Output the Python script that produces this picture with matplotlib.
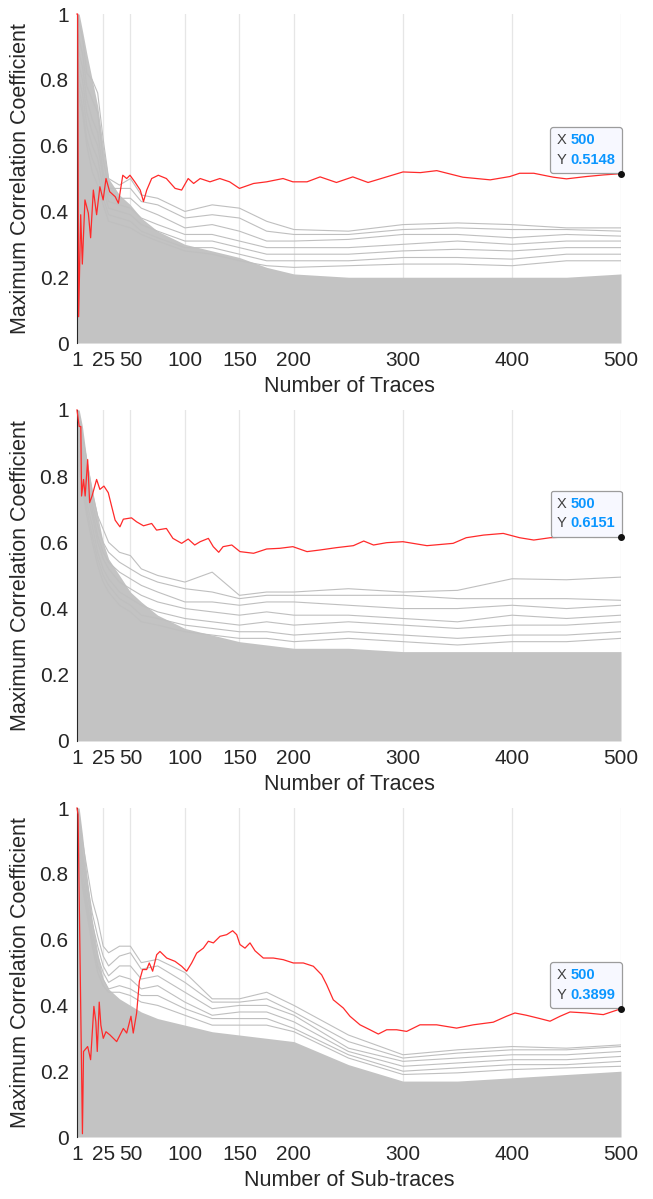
import matplotlib
matplotlib.use("Agg")
import matplotlib.pyplot as plt
from matplotlib.offsetbox import TextArea, HPacker, VPacker, AnnotationBbox

plt.rcParams['font.family'] = ['Liberation Sans', 'DejaVu Sans']

# x positions shared by the gray (wrong key) traces
gx = [1, 3, 6, 10, 15, 20, 25, 30, 40, 50, 60, 75, 100, 125, 150, 175, 200, 250, 300, 350, 400, 450, 500]

# --- panel 1: Number of Traces ---
red1_x = [1, 1.6, 2.5, 4.4, 5.9, 8.3, 11.4, 13.5, 16, 19, 22, 25, 27.6, 31, 36, 39, 43, 46.6, 49.6, 54,
          59, 62, 65, 69.5, 75.6, 83, 91, 97, 103, 108, 114, 123, 132, 141, 150, 163, 175, 190, 199, 212,
          224, 239, 254, 268, 285, 300, 316, 331, 355, 380, 398, 407, 420, 438, 450, 468, 484, 500]
red1_y = [1.0, 1.0, 0.08, 0.39, 0.24, 0.435, 0.395, 0.32, 0.465, 0.39, 0.475, 0.435, 0.50, 0.46, 0.445, 0.425, 0.51, 0.50, 0.51, 0.49,
          0.465, 0.43, 0.465, 0.50, 0.51, 0.50, 0.47, 0.465, 0.50, 0.485, 0.50, 0.49, 0.50, 0.49, 0.47, 0.485, 0.49, 0.50, 0.49, 0.49,
          0.505, 0.488, 0.505, 0.488, 0.505, 0.52, 0.518, 0.524, 0.504, 0.496, 0.506, 0.516, 0.516, 0.504, 0.499, 0.506, 0.511, 0.5148]
dense1 = [1.0, 1.0, 0.95, 0.88, 0.8, 0.72, 0.6, 0.5, 0.45, 0.42, 0.38, 0.34, 0.30, 0.28, 0.26, 0.23, 0.21, 0.20, 0.20, 0.20, 0.20, 0.20, 0.21]
upper1 = [
    [1.0, 0.97, 0.93, 0.82, 0.80, 0.76, 0.62, 0.50, 0.48, 0.50, 0.45, 0.44, 0.40, 0.42, 0.41, 0.37, 0.345, 0.34, 0.36, 0.365, 0.36, 0.35, 0.35],
    [0.96, 0.92, 0.88, 0.78, 0.74, 0.70, 0.56, 0.47, 0.47, 0.47, 0.43, 0.42, 0.38, 0.39, 0.38, 0.34, 0.33, 0.33, 0.345, 0.35, 0.345, 0.345, 0.34],
    [0.92, 0.88, 0.84, 0.74, 0.68, 0.64, 0.52, 0.45, 0.44, 0.44, 0.41, 0.39, 0.35, 0.36, 0.34, 0.31, 0.31, 0.315, 0.33, 0.33, 0.32, 0.33, 0.325],
    [0.88, 0.84, 0.80, 0.70, 0.64, 0.60, 0.50, 0.43, 0.42, 0.41, 0.38, 0.36, 0.33, 0.33, 0.31, 0.29, 0.29, 0.29, 0.30, 0.31, 0.30, 0.31, 0.31],
    [0.85, 0.80, 0.76, 0.66, 0.60, 0.56, 0.47, 0.41, 0.40, 0.39, 0.36, 0.34, 0.31, 0.31, 0.29, 0.27, 0.27, 0.27, 0.28, 0.285, 0.28, 0.29, 0.29],
    [0.82, 0.77, 0.72, 0.62, 0.56, 0.52, 0.44, 0.39, 0.38, 0.37, 0.34, 0.32, 0.29, 0.29, 0.27, 0.25, 0.25, 0.25, 0.26, 0.26, 0.255, 0.27, 0.27],
    [0.78, 0.74, 0.70, 0.60, 0.52, 0.48, 0.42, 0.37, 0.36, 0.35, 0.33, 0.31, 0.28, 0.27, 0.25, 0.235, 0.23, 0.235, 0.24, 0.24, 0.235, 0.25, 0.25],
]

# --- panel 2: Number of Traces ---
red2_x = [1, 3, 4.5, 5.2, 7, 8.5, 10.8, 12.6, 14.8, 19, 22, 25.7, 29.7, 32.7, 36, 40.4, 43.5, 51, 55.7, 62,
          69.5, 74, 83, 89, 97, 103, 109, 114, 121.5, 126, 131, 135, 143, 150.5, 163, 175, 187, 199, 212, 224,
          239, 254.5, 264, 273, 285, 300, 322, 346, 358, 374, 392, 407, 420, 435, 456, 475, 500]
red2_y = [1.0, 0.95, 0.95, 0.74, 0.79, 0.74, 0.85, 0.72, 0.74, 0.79, 0.76, 0.77, 0.75, 0.71, 0.667, 0.647, 0.67, 0.674, 0.662, 0.65,
          0.657, 0.637, 0.642, 0.612, 0.597, 0.61, 0.592, 0.602, 0.612, 0.587, 0.57, 0.587, 0.592, 0.572, 0.567, 0.58, 0.582, 0.587, 0.572, 0.577,
          0.584, 0.59, 0.604, 0.592, 0.599, 0.602, 0.59, 0.597, 0.614, 0.622, 0.627, 0.614, 0.607, 0.614, 0.617, 0.615, 0.6151]
dense2 = [1.0, 1.0, 0.95, 0.85, 0.76, 0.68, 0.60, 0.55, 0.50, 0.45, 0.42, 0.38, 0.34, 0.32, 0.30, 0.29, 0.28, 0.28, 0.27, 0.27, 0.27, 0.27, 0.27]
upper2 = [
    [1.0, 0.98, 0.92, 0.85, 0.75, 0.68, 0.64, 0.60, 0.57, 0.56, 0.52, 0.50, 0.48, 0.51, 0.44, 0.45, 0.45, 0.46, 0.45, 0.455, 0.49, 0.487, 0.495],
    [0.97, 0.94, 0.88, 0.80, 0.72, 0.65, 0.60, 0.57, 0.54, 0.52, 0.50, 0.48, 0.46, 0.45, 0.43, 0.44, 0.44, 0.44, 0.44, 0.43, 0.43, 0.43, 0.425],
    [0.95, 0.92, 0.86, 0.77, 0.70, 0.62, 0.57, 0.54, 0.51, 0.49, 0.47, 0.45, 0.42, 0.42, 0.41, 0.42, 0.42, 0.41, 0.40, 0.40, 0.41, 0.40, 0.41],
    [0.93, 0.90, 0.84, 0.75, 0.68, 0.60, 0.55, 0.52, 0.48, 0.46, 0.44, 0.42, 0.40, 0.39, 0.38, 0.39, 0.38, 0.38, 0.37, 0.36, 0.38, 0.37, 0.38],
    [0.90, 0.87, 0.81, 0.72, 0.65, 0.57, 0.52, 0.49, 0.45, 0.43, 0.41, 0.39, 0.37, 0.36, 0.35, 0.36, 0.35, 0.36, 0.35, 0.34, 0.35, 0.35, 0.36],
    [0.88, 0.85, 0.78, 0.70, 0.62, 0.55, 0.50, 0.47, 0.43, 0.41, 0.38, 0.37, 0.35, 0.34, 0.33, 0.33, 0.32, 0.33, 0.32, 0.31, 0.32, 0.32, 0.33],
    [0.86, 0.82, 0.76, 0.68, 0.60, 0.53, 0.48, 0.45, 0.41, 0.39, 0.36, 0.35, 0.33, 0.32, 0.31, 0.31, 0.30, 0.31, 0.30, 0.29, 0.30, 0.30, 0.31],
]

# --- panel 3: Number of Sub-traces ---
red3_x = [1, 2, 6, 7, 10.8, 13.5, 16.5, 18.3, 19.6, 21.4, 22.9, 25.1, 27.6, 31.3, 37.4, 43.5, 46.6, 50.5, 52.6, 55.7,
          58.2, 61.2, 64.9, 67.3, 70.4, 74.1, 77.1, 83.3, 90.9, 97, 101.6, 106.2, 110.8, 116.9, 121.5, 126.1, 132.2, 138.3, 143.8, 147.5,
          150.5, 155.1, 159.7, 164.3, 171.9, 181.1, 190.2, 199.4, 208.6, 217.8, 225.4, 230, 236.1, 245.3, 251.4, 260.6, 269.7, 277.4, 285.1, 294.2,
          303.4, 315.6, 330.9, 349.2, 364.5, 382.8, 395, 402.7, 413.3, 425.6, 434.9, 444.1, 453.2, 468.5, 483.8, 500]
red3_y = [1.0, 0.98, 0.01, 0.26, 0.275, 0.235, 0.397, 0.35, 0.26, 0.41, 0.34, 0.30, 0.32, 0.31, 0.29, 0.33, 0.316, 0.367, 0.316, 0.377,
          0.473, 0.509, 0.509, 0.529, 0.504, 0.554, 0.564, 0.544, 0.534, 0.519, 0.504, 0.529, 0.559, 0.574, 0.595, 0.59, 0.61, 0.615, 0.627, 0.615,
          0.585, 0.574, 0.59, 0.566, 0.544, 0.544, 0.539, 0.529, 0.529, 0.519, 0.493, 0.463, 0.417, 0.392, 0.367, 0.341, 0.326, 0.313, 0.326, 0.326,
          0.321, 0.341, 0.341, 0.331, 0.341, 0.349, 0.367, 0.377, 0.37, 0.36, 0.352, 0.367, 0.38, 0.377, 0.372, 0.3899]
dense3 = [1.0, 1.0, 0.92, 0.80, 0.66, 0.56, 0.48, 0.45, 0.42, 0.40, 0.38, 0.36, 0.34, 0.32, 0.31, 0.30, 0.29, 0.22, 0.17, 0.17, 0.18, 0.19, 0.20]
upper3 = [
    [1.0, 0.98, 0.90, 0.82, 0.72, 0.66, 0.58, 0.56, 0.58, 0.58, 0.53, 0.54, 0.50, 0.42, 0.42, 0.44, 0.40, 0.31, 0.25, 0.265, 0.275, 0.27, 0.28],
    [0.97, 0.95, 0.86, 0.78, 0.68, 0.61, 0.55, 0.52, 0.55, 0.56, 0.51, 0.52, 0.47, 0.41, 0.41, 0.42, 0.38, 0.29, 0.24, 0.255, 0.265, 0.265, 0.275],
    [0.95, 0.92, 0.84, 0.75, 0.65, 0.58, 0.52, 0.49, 0.52, 0.52, 0.48, 0.49, 0.44, 0.39, 0.40, 0.40, 0.37, 0.27, 0.23, 0.24, 0.25, 0.25, 0.26],
    [0.92, 0.89, 0.81, 0.72, 0.62, 0.55, 0.50, 0.47, 0.49, 0.48, 0.45, 0.46, 0.41, 0.37, 0.38, 0.38, 0.35, 0.26, 0.215, 0.225, 0.235, 0.235, 0.245],
    [0.90, 0.86, 0.78, 0.70, 0.60, 0.52, 0.48, 0.45, 0.46, 0.45, 0.43, 0.43, 0.39, 0.36, 0.36, 0.36, 0.33, 0.25, 0.20, 0.21, 0.22, 0.22, 0.23],
    [0.88, 0.84, 0.76, 0.68, 0.58, 0.50, 0.46, 0.44, 0.44, 0.43, 0.41, 0.40, 0.37, 0.34, 0.34, 0.34, 0.32, 0.24, 0.19, 0.195, 0.205, 0.21, 0.215],
]

xticks = [1, 25, 50, 100, 150, 200, 300, 400, 500]
yticks = [0, 0.2, 0.4, 0.6, 0.8, 1]
ytick_labels = ['0', '0.2', '0.4', '0.6', '0.8', '1']
xlabels = ['Number of Traces', 'Number of Traces', 'Number of Sub-traces']

panels = [
    (red1_x, red1_y, dense1, upper1),
    (red2_x, red2_y, dense2, upper2),
    (red3_x, red3_y, dense3, upper3),
]

# axes boxes in figure fractions [left, bottom, width, height]
boxes = [
    [0.1179, 0.7139, 0.8331, 0.2744],
    [0.1179, 0.3820, 0.8331, 0.2761],
    [0.1179, 0.0517, 0.8331, 0.2744],
]

GRAY = '#BFBFBF'
TXT = '#262626'


def datatip(ax, xv, yv):
    rows = []
    for lab, val in (('X', '%d' % xv), ('Y', '%.4f' % yv)):
        rows.append(HPacker(children=[
            TextArea(lab, textprops=dict(color='#404040', fontsize=10.5)),
            TextArea(val, textprops=dict(color='#0A96FF', fontsize=10.5, fontweight='bold')),
        ], align='baseline', pad=0, sep=3))
    box = VPacker(children=rows, align='left', pad=0, sep=4)
    ab = AnnotationBbox(box, (xv, yv), xybox=(-4, 5), boxcoords='offset points',
                        box_alignment=(1, 0), frameon=True, pad=0.45,
                        bboxprops=dict(boxstyle='round,pad=0.45,rounding_size=0.2',
                                       facecolor='#F7F8FF', edgecolor='#9C9C9C', lw=0.9),
                        annotation_clip=False, zorder=6)
    ax.add_artist(ab)
    ax.plot([xv], [yv], 'o', color='#111111', ms=4, clip_on=False, zorder=7)


fig = plt.figure(figsize=(6.53, 11.99), dpi=100)

for (rx, ry, dense, upper), box, xl in zip(panels, boxes, xlabels):
    ax = fig.add_axes(box)
    ax.fill_between(gx, 0, dense, color='#C3C3C3', lw=0, zorder=1)
    for tr in upper:
        ax.plot(gx, tr, color=GRAY, lw=0.8, zorder=2)
    ax.plot(rx, ry, color='#FF2A2A', lw=0.9, zorder=4, clip_on=False)
    datatip(ax, rx[-1], ry[-1])

    ax.set_xlim(1, 500)
    ax.set_ylim(0, 1)
    ax.set_xticks(xticks)
    ax.set_xticklabels([str(t) for t in xticks])
    ax.set_yticks(yticks)
    ax.set_yticklabels(ytick_labels)
    ax.tick_params(length=0, labelsize=15, colors=TXT, pad=6)
    ax.grid(axis='x', color='#E6E6E6', lw=0.9, zorder=0)
    ax.set_axisbelow(True)
    for s in ('top', 'right', 'bottom'):
        ax.spines[s].set_visible(False)
    ax.spines['left'].set_color(TXT)
    ax.spines['left'].set_linewidth(0.8)
    ax.set_xlabel(xl, fontsize=15.5, color=TXT, labelpad=4)
    ax.set_ylabel('Maximum Correlation Coefficient', fontsize=15.5, color=TXT, labelpad=6)

fig.savefig('out.png', dpi=100)
